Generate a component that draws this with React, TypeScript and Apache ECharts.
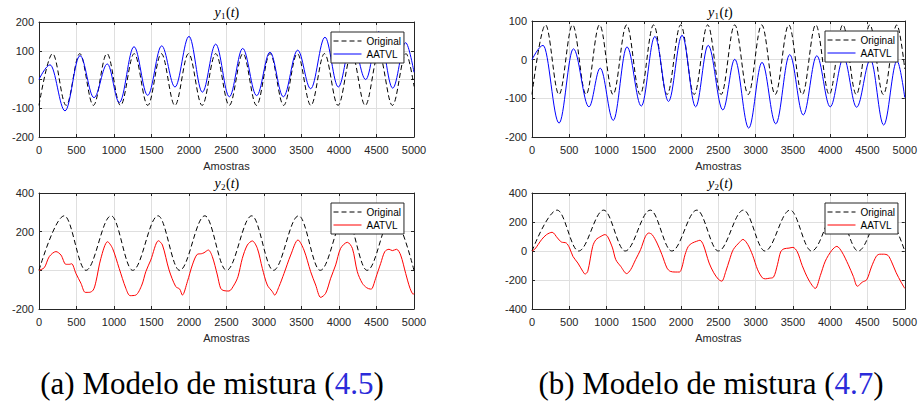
import React, { useEffect, useRef } from "react";
import * as echarts from "echarts";

// ---------------- data ----------------
const X_MIN = 0;
const X_MAX = 5000;
const X_STEP = 500;

// original y1(t): extrema (samples, values)
const ORIG_Y1_T = [0, 181, 362, 544, 725, 906, 1087, 1269, 1450, 1631, 1812, 1994, 2175, 2356, 2537, 2719, 2900, 3081, 3262, 3444, 3625, 3806, 3987, 4169, 4350, 4531, 4712, 4894, 5000];
const ORIG_Y1_V = [-90, 90, -90, 90, -90, 90, -90, 90, -90, 90, -90, 90, -90, 90, -90, 90, -90, 90, -90, 90, -90, 90, -90, 90, -90, 90, -90, 90, -24];

// original y2(t)
const ORIG_Y2_T = [0, 337, 625, 962, 1250, 1587, 1875, 2212, 2500, 2837, 3125, 3462, 3750, 4087, 4375, 4712, 5000];
const ORIG_Y2_V = [0, 282, 0, 282, 0, 282, 0, 282, 0, 282, 0, 282, 0, 282, 0, 282, 0];

// (a) AATVL y1
const A_Y1_T = [0, 147, 347, 547, 733, 911, 1071, 1267, 1449, 1636, 1813, 2000, 2178, 2356, 2538, 2716, 2902, 3080, 3258, 3449, 3622, 3813, 3991, 4172, 4356, 4530, 4716, 4889, 5000];
const A_Y1_V = [0, 51, -109, 83, -63, 54, -80, 114, -55, 117, -26, 150, -44, 123, -60, 108, -56, 95, -60, 102, -32, 147, -26, 140, 0, 166, -30, 128, 25];

// (a) AATVL y2
const A_Y2_T = [0, 71, 137, 226, 293, 359, 404, 435, 492, 559, 617, 670, 723, 759, 825, 914, 980, 1069, 1158, 1215, 1291, 1371, 1424, 1490, 1593, 1646, 1734, 1823, 1876, 1912, 1978, 2045, 2111, 2165, 2200, 2258, 2311, 2378, 2422, 2466, 2533, 2600, 2653, 2711, 2778, 2844, 2911, 2978, 3044, 3111, 3142, 3200, 3267, 3356, 3453, 3533, 3622, 3689, 3756, 3822, 3889, 3956, 4022, 4111, 4178, 4244, 4311, 4369, 4422, 4444, 4489, 4556, 4611, 4667, 4711, 4767, 4822, 4889, 4947, 4991, 5000];
const A_Y2_V = [0, 14, 71, 97, 79, 31, 31, 34, -16, -67, -114, -114, -102, -59, 62, 148, 114, 10, -93, -131, -128, -76, -7, 53, 153, 131, 2, -84, -97, -128, -59, 28, 83, 86, 91, 105, 71, -24, -93, -105, -107, -76, -33, 62, 131, 152, 114, 10, -76, -110, -128, -84, -16, 79, 157, 105, -7, -76, -140, -119, -41, 28, 114, 145, 114, -7, -67, -90, -97, -93, -41, 36, 97, 109, 102, 109, 79, -16, -93, -124, -118];

// (b) AATVL y1
const B_Y1_T = [0, 148, 363, 555, 764, 915, 1090, 1274, 1466, 1648, 1831, 2013, 2195, 2363, 2560, 2720, 2907, 3085, 3270, 3457, 3638, 3820, 4000, 4180, 4354, 4540, 4717, 4896, 5000];
const B_Y1_V = [0, 37, -164, 28, -122, -22, -157, 33, -120, 60, -108, 63, -122, 37, -130, 1, -177, -7, -166, 13, -143, 10, -122, 5, -123, 0, -169, -3, -98];

// (b) AATVL y2
const B_Y2_T = [0, 40, 128, 195, 270, 341, 394, 460, 504, 549, 615, 681, 712, 748, 814, 858, 925, 978, 1013, 1080, 1124, 1190, 1270, 1323, 1389, 1456, 1522, 1566, 1611, 1677, 1743, 1810, 1854, 1920, 1978, 2009, 2053, 2097, 2150, 2208, 2252, 2297, 2376, 2438, 2500, 2545, 2600, 2650, 2700, 2783, 2830, 2894, 2960, 3027, 3090, 3130, 3181, 3240, 3292, 3336, 3380, 3447, 3500, 3558, 3624, 3712, 3800, 3867, 3934, 4022, 4089, 4155, 4243, 4310, 4365, 4430, 4490, 4553, 4620, 4664, 4717, 4774, 4819, 4885, 4951, 5000];
const B_Y2_V = [0, 14, 78, 113, 129, 90, 62, 55, 21, -37, -83, -140, -159, -140, 32, 78, 101, 113, 101, 21, -60, -106, -156, -129, -60, 9, 101, 124, 113, 55, -25, -117, -140, -145, -145, -117, -25, 32, 55, 67, 74, 44, -83, -150, -195, -208, -140, -60, 10, 60, 80, 45, -30, -130, -185, -192, -188, -180, -95, -5, 15, 20, 25, -5, -100, -200, -258, -170, -70, 5, 32, -5, -95, -175, -243, -215, -198, -110, -35, -22, -22, -30, -70, -150, -215, -258];

const SERIES_NAMES = ["Original", "AATVL"];
const X_LABEL = "Amostras";
const CAPTIONS = [
  { pre: "(a) Modelo de mistura (", ref: "4.5", post: ")" },
  { pre: "(b) Modelo de mistura (", ref: "4.7", post: ")" },
];

// y-axis ranges per panel: [min, max, interval]
const Y_RANGE_A1 = [-200, 200, 100];
const Y_RANGE_A2 = [-200, 400, 200];
const Y_RANGE_B1 = [-200, 100, 100];
const Y_RANGE_B2 = [-400, 400, 200];

// ---------------- layout ----------------
const AX = "#262626";
const GRIDC = "#dfdfdf";
const SANS = "Liberation Sans, Arial, sans-serif";
const SERIF = "Liberation Serif, Times New Roman, serif";

const zip = (t: number[], v: number[]) => t.map((x, i) => [x, v[i]]);

const PANELS = [
  { key: "a1", left: 39, top: 22, width: 375, height: 115, yr: Y_RANGE_A1, orig: zip(ORIG_Y1_T, ORIG_Y1_V), est: zip(A_Y1_T, A_Y1_V), color: "#0000ff", sub: "1", smoothEst: true },
  { key: "a2", left: 39, top: 193, width: 375, height: 116, yr: Y_RANGE_A2, orig: zip(ORIG_Y2_T, ORIG_Y2_V), est: zip(A_Y2_T, A_Y2_V), color: "#ff0000", sub: "2", smoothEst: false },
  { key: "b1", left: 532, top: 21, width: 376, height: 116, yr: Y_RANGE_B1, orig: zip(ORIG_Y1_T, ORIG_Y1_V), est: zip(B_Y1_T, B_Y1_V), color: "#0000ff", sub: "1", smoothEst: true },
  { key: "b2", left: 532, top: 193, width: 376, height: 116, yr: Y_RANGE_B2, orig: zip(ORIG_Y2_T, ORIG_Y2_V), est: zip(B_Y2_T, B_Y2_V), color: "#ff0000", sub: "2", smoothEst: false },
];

const plain = (v: number) => String(v);

function buildOption() {
  const grid: any[] = [];
  const xAxis: any[] = [];
  const yAxis: any[] = [];
  const series: any[] = [];
  const legend: any[] = [];
  const graphic: any[] = [];

  PANELS.forEach((p, i) => {
    grid.push({ left: p.left, top: p.top, width: p.width, height: p.height, containLabel: false });
    const tick = { show: true, inside: true, length: 3, lineStyle: { color: AX, width: 1 } };
    const line = { show: true, lineStyle: { color: AX, width: 1 } };
    xAxis.push({
      type: "value", gridIndex: i, position: "bottom", min: X_MIN, max: X_MAX, interval: X_STEP,
      axisLine: { ...line, onZero: false }, axisTick: tick,
      axisLabel: { fontSize: 11, color: AX, fontFamily: SANS, margin: 7, formatter: plain },
      splitLine: { show: true, showMinLine: false, showMaxLine: false, lineStyle: { color: GRIDC, width: 1 } },
      name: X_LABEL, nameLocation: "middle", nameGap: 23,
      nameTextStyle: { fontSize: 11, color: AX, fontFamily: SANS },
    });
    xAxis.push({
      type: "value", gridIndex: i, position: "top", min: X_MIN, max: X_MAX, interval: X_STEP,
      axisLine: { ...line, onZero: false }, axisTick: tick, axisLabel: { show: false }, splitLine: { show: false },
    });
    yAxis.push({
      type: "value", gridIndex: i, position: "left", min: p.yr[0], max: p.yr[1], interval: p.yr[2],
      axisLine: { ...line, onZero: false }, axisTick: tick,
      axisLabel: { fontSize: 11, color: AX, fontFamily: SANS, margin: 5, formatter: plain },
      splitLine: { show: true, showMinLine: false, showMaxLine: false, lineStyle: { color: GRIDC, width: 1 } },
    });
    yAxis.push({
      type: "value", gridIndex: i, position: "right", min: p.yr[0], max: p.yr[1], interval: p.yr[2],
      axisLine: { ...line, onZero: false }, axisTick: tick, axisLabel: { show: false }, splitLine: { show: false },
    });

    const nOrig = SERIES_NAMES[0] + "|" + p.key;
    const nEst = SERIES_NAMES[1] + "|" + p.key;
    series.push({
      type: "line", name: nOrig, xAxisIndex: 2 * i, yAxisIndex: 2 * i, data: p.orig,
      symbol: "none", showSymbol: false, smooth: 0.36, smoothMonotone: "x", silent: true,
      lineStyle: { color: "#000000", width: 1, type: [5, 3] }, itemStyle: { color: "#000000" }, z: 2,
    });
    series.push({
      type: "line", name: nEst, xAxisIndex: 2 * i, yAxisIndex: 2 * i, data: p.est,
      symbol: "none", showSymbol: false,
      smooth: p.smoothEst ? 0.36 : 0.3, smoothMonotone: p.smoothEst ? "x" : undefined, silent: true,
      lineStyle: { color: p.color, width: 1 }, itemStyle: { color: p.color }, z: 3,
    });

    legend.push({
      data: [nOrig, nEst], orient: "vertical",
      left: p.left + p.width - 83, top: p.top + 10,
      itemWidth: 28, itemHeight: 10, itemGap: 3, padding: [4, 3, 4, 2],
      backgroundColor: "#ffffff", borderColor: AX, borderWidth: 1, borderRadius: 0,
      selectedMode: false,
      itemStyle: { opacity: 0, borderWidth: 0 },
      lineStyle: { width: 1 },
      formatter: (n: string) => n.split("|")[0],
      textStyle: { fontSize: 10, color: "#000000", fontFamily: SANS },
    });

    // title y_k(t)
    const cx = p.left + p.width / 2;
    const cy = i % 2 === 0 ? 12 : 183;
    const x0 = cx - 12;
    graphic.push({
      type: "group", silent: true,
      children: [
        { type: "text", x: x0, y: cy, style: { text: "y", fontFamily: SERIF, fontStyle: "italic", fontSize: 14, fill: "#000", align: "left", verticalAlign: "middle" } },
        { type: "text", x: x0 + 6.5, y: cy + 3.5, style: { text: p.sub, fontFamily: SERIF, fontSize: 9, fill: "#000", align: "left", verticalAlign: "middle" } },
        { type: "text", x: x0 + 11.5, y: cy, style: { text: "{u|(}{i|t}{u|)}", rich: { u: { fontFamily: SERIF, fontSize: 14, fill: "#000" }, i: { fontFamily: SERIF, fontStyle: "italic", fontSize: 14, fill: "#000" } }, align: "left", verticalAlign: "middle" } },
      ],
    });
  });

  // captions
  const capX = [212, 711];
  CAPTIONS.forEach((c, i) => {
    graphic.push({
      type: "text", x: capX[i], y: 383, silent: true,
      style: {
        text: "{n|" + c.pre + "}{b|" + c.ref + "}{n|" + c.post + "}",
        rich: {
          n: { fontFamily: SERIF, fontSize: 31, fill: "#000000" },
          b: { fontFamily: SERIF, fontSize: 31, fill: "#2b2bd9" },
        },
        align: "center", verticalAlign: "middle",
      },
    });
  });

  return { animation: false, backgroundColor: "#ffffff", grid, xAxis, yAxis, series, legend, graphic };
}

export default function App() {
  const ref = useRef<HTMLDivElement>(null);
  useEffect(() => {
    if (!ref.current) return;
    const chart = echarts.init(ref.current, undefined, { renderer: "svg" });
    chart.setOption(buildOption() as any);
    return () => chart.dispose();
  }, []);
  return <div ref={ref} style={{ position: "fixed", left: 0, top: 0, width: 920, height: 403, background: "#fff" }} />;
}
